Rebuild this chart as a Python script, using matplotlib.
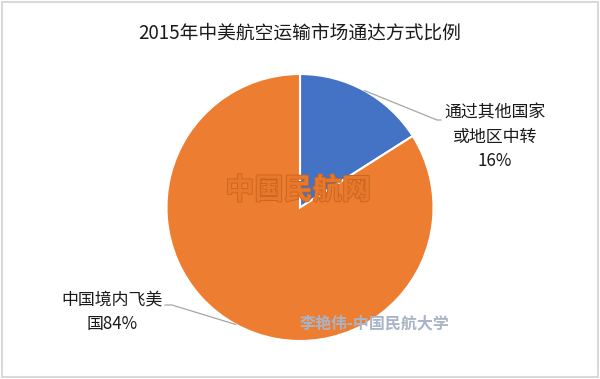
import matplotlib
matplotlib.use("Agg")
import matplotlib.pyplot as plt
import matplotlib.patheffects as pe
from matplotlib.patches import Rectangle
import numpy as np

plt.rcParams['font.family'] = ['Noto Sans CJK SC', 'DejaVu Sans']

title = "2015年中美航空运输市场通达方式比例"
categories = ["通过其他国家\n或地区中转", "中国境内飞美\n国"]
values = [16, 84]
colors = ["#4472C4", "#ED7D31"]

W, H = 600, 379
fig = plt.figure(figsize=(W / 100, H / 100), dpi=100)
ax = fig.add_axes([0, 0, 1, 1])
ax.set_xlim(0, W)
ax.set_ylim(0, H)
ax.set_aspect('equal')
ax.axis('off')

cx, cy, r = 300, H - 207.5, 133.5
wedges, _ = ax.pie(values, colors=colors, startangle=90, counterclock=False,
                   center=(cx, cy), radius=r, frame=True,
                   wedgeprops=dict(edgecolor='white', linewidth=1.5))
ax.set_xlim(0, W)
ax.set_ylim(0, H)
ax.axis('off')

fig.text(0.5, 1 - 33 / H, title, ha='center', va='center', fontsize=13.5, color='#1a1a1a')

# labels
label_pos = [(495, H - 137), (112, H - 312)]
line_ends = [(441, H - 120), (165, H - 305)]
line_knee = [(437, H - 120), (172, H - 305)]
for w, v, cat, (lx, ly), (ex, ey), (kx, ky) in zip(wedges, values, categories, label_pos, line_ends, line_knee):
    mid = np.deg2rad((w.theta1 + w.theta2) / 2)
    px, py = cx + r * np.cos(mid), cy + r * np.sin(mid)
    ax.plot([px, kx, ex], [py, ky, ey], color='#A6A6A6', lw=0.9, zorder=3)
    if v == 16:
        txt = f"{cat}\n{v}%"
    else:
        txt = f"{cat}{v}%"
    ax.text(lx, ly, txt, ha='center', va='center', fontsize=12.2,
            color='#1a1a1a', linespacing=1.45, zorder=4)

# watermarks
ax.text(298, H - 190, "中国民航网", ha='center', va='center', fontsize=21,
        fontweight='bold', color='#E8782C', zorder=5,
        path_effects=[pe.withStroke(linewidth=1.2, foreground='#C8641E')])
ax.text(375, H - 323, "李艳伟-中国民航大学", ha='center', va='center', fontsize=11.5,
        color='#A9B4C8', fontweight='bold', zorder=5)

# border
fig.patches.append(Rectangle((2 / W, 2 / H), 1 - 4 / W, 1 - 4 / H, transform=fig.transFigure,
                             fill=False, edgecolor='#D9D9D9', linewidth=1.5))

fig.savefig("out.png", dpi=100)
